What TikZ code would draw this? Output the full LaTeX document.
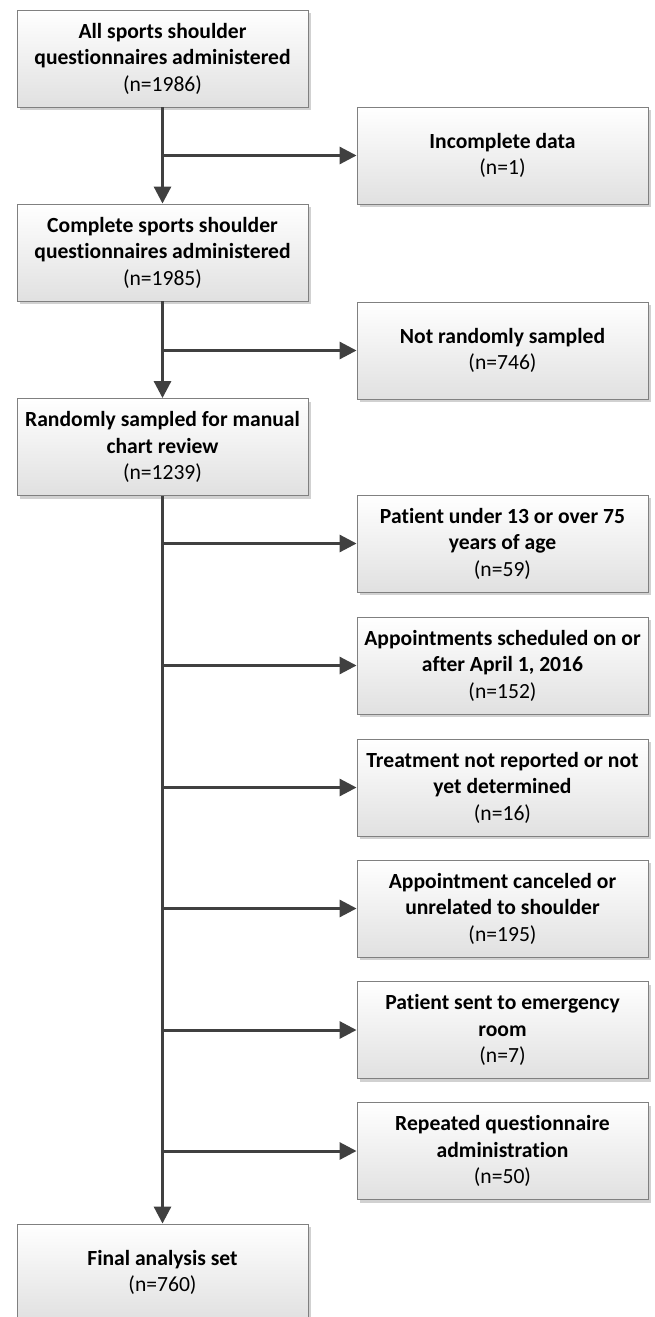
\documentclass[tikz,border=0pt]{standalone}
\usepackage{fontspec}
\setmainfont[RawFeature={-liga;-clig;-dlig}]{Carlito}
\usetikzlibrary{shadows,arrows.meta}
\definecolor{linec}{HTML}{404040}
\tikzset{
  box/.style={rectangle, draw=black!50, line width=0.9pt,
    top color=white, bottom color=black!12,
    drop shadow={shadow xshift=3pt, shadow yshift=-3pt, fill=black!18, opacity=1},
    minimum width=291pt, minimum height=97pt, inner sep=2pt,
    align=center, font=\fontsize{21.6}{26.5}\selectfont},
  flow/.style={draw=linec, line width=3pt,
    -{Triangle[length=17pt,width=17pt]}}
}
\newcommand{\bt}[1]{\textbf{#1}}
\begin{document}
\begin{tikzpicture}[x=1pt,y=-1pt]
\useasboundingbox (0,0) rectangle (654,1317);
\clip (0,0) rectangle (654,1317);
% left column
\node[box] (a) at (162.5,58.5) {\bt{All sports shoulder}\\\bt{questionnaires administered}\\(n=1986)};
\node[box] (b) at (162.5,252.5) {\bt{Complete sports shoulder}\\\bt{questionnaires administered}\\(n=1985)};
\node[box] (c) at (162.5,447) {\bt{Randomly sampled for manual}\\\bt{chart review}\\(n=1239)};
\node[box] (f) at (162.5,1272.5) {\bt{Final analysis set}\\(n=760)};
% right column
\node[box] (r1) at (502.5,155.5) {\bt{Incomplete data}\\(n=1)};
\node[box] (r2) at (502.5,350.5) {\bt{Not randomly sampled}\\(n=746)};
\node[box] (e1) at (502.5,543.5) {\bt{Patient under 13 or over 75}\\\bt{years of age}\\(n=59)};
\node[box] (e2) at (502.5,665.5) {\bt{Appointments scheduled on or}\\\bt{after April 1, 2016}\\(n=152)};
\node[box] (e3) at (502.5,787.5) {\bt{Treatment not reported or not}\\\bt{yet determined}\\(n=16)};
\node[box] (e4) at (502.5,908.5) {\bt{Appointment canceled or}\\\bt{unrelated to shoulder}\\(n=195)};
\node[box] (e5) at (502.5,1030) {\bt{Patient sent to emergency}\\\bt{room}\\(n=7)};
\node[box] (e6) at (502.5,1151) {\bt{Repeated questionnaire}\\\bt{administration}\\(n=50)};
% branch points
\coordinate (j1) at (162.5,155.5);
\coordinate (j2) at (162.5,350.5);
\foreach \k in {1,...,6} { \coordinate (k\k) at (e\k -| a); }
% connectors
\draw[flow] (a.south) -- (b.north);
\draw[flow] (j1) -- (r1.west);
\draw[flow] (b.south) -- (c.north);
\draw[flow] (j2) -- (r2.west);
\draw[flow] (c.south) -- (f.north);
\foreach \k in {1,...,6} { \draw[flow] (k\k) -- (e\k.west); }
\end{tikzpicture}
\end{document}
